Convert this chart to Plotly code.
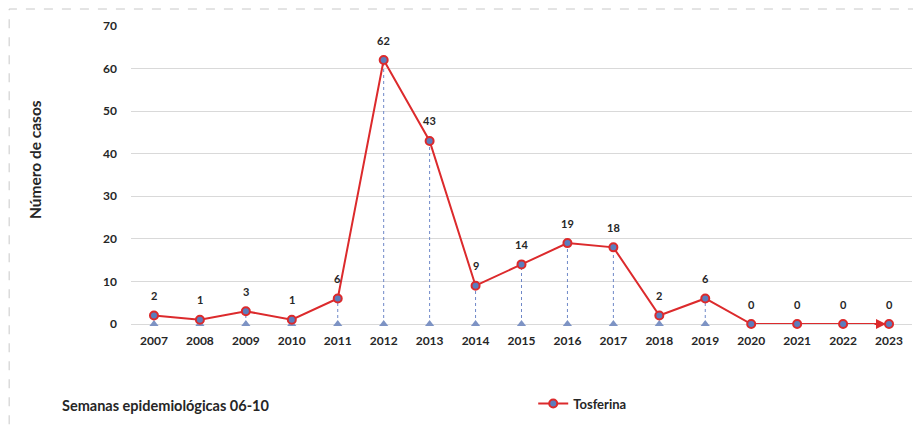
import plotly.graph_objects as go

years = ['2007', '2008', '2009', '2010', '2011', '2012', '2013', '2014', '2015',
         '2016', '2017', '2018', '2019', '2020', '2021', '2022', '2023']
cases = [2, 1, 3, 1, 6, 62, 43, 9, 14, 19, 18, 2, 6, 0, 0, 0, 0]
y_ticks = [0, 10, 20, 30, 40, 50, 60, 70]

RED = '#dc2a2c'
BLUE = '#5b7dbd'
DROP = '#6f88c8'
FONT = 'Lato'

# drop lines from zero up to each point
drop_x, drop_y = [], []
for yr, v in zip(years, cases):
    drop_x += [yr, yr, None]
    drop_y += [0, v, None]

fig = go.Figure()
fig.add_trace(go.Scatter(x=drop_x, y=drop_y, mode='lines', showlegend=False,
                         line=dict(color=DROP, width=1, dash='dot'),
                         hoverinfo='skip', cliponaxis=False))
fig.add_trace(go.Scatter(x=years, y=[0] * len(years), mode='markers', showlegend=False,
                         marker=dict(symbol='triangle-up', size=8, color='#7d93c4'),
                         cliponaxis=False))
fig.add_trace(go.Scatter(x=years, y=cases, mode='lines+markers', name='Tosferina',
                         line=dict(color=RED, width=2),
                         marker=dict(symbol='circle', size=8, color=BLUE,
                                     line=dict(color=RED, width=2)),
                         cliponaxis=False))

# value labels (category axis -> use index positions)
for i, v in enumerate(cases):
    fig.add_annotation(x=i, y=v, text=str(v), showarrow=False, yshift=20,
                       font=dict(family=FONT, size=11, color='#262626', weight='bold'))

# arrow head at the end of the series
fig.add_annotation(x=len(cases) - 1, y=cases[-1], ax=-16, ay=0, text='', showarrow=True,
                   arrowhead=2, arrowsize=1, arrowwidth=2, arrowcolor=RED, standoff=3)

fig.add_annotation(xref='paper', yref='paper', x=-0.137, y=0.55, text='Número de casos',
                   textangle=-90, showarrow=False,
                   font=dict(family=FONT, size=15.5, color='#262626', weight='bold'))
fig.add_annotation(xref='paper', yref='paper', x=-0.0915, y=-0.31, xanchor='left',
                   text='Semanas epidemiológicas 06-10', showarrow=False,
                   font=dict(family=FONT, size=14.5, color='#262626', weight='bold'))

# dashed outer frame
fig.add_shape(type='rect', xref='paper', yref='paper', x0=-0.156, x1=1.05, y0=-0.5, y1=1.057,
              line=dict(color='#c8c8c8', width=1, dash='dash'))

fig.update_layout(
    width=921, height=431,
    margin=dict(l=123, r=17, t=18, b=115, autoexpand=False),
    paper_bgcolor='white', plot_bgcolor='white',
    font=dict(family=FONT, color='#262626'),
    showlegend=True,
    legend=dict(x=0.515, y=-0.267, xanchor='left', yanchor='middle', orientation='h',
                font=dict(family=FONT, size=13, color='#262626', weight='bold'),
                bgcolor='rgba(0,0,0,0)'),
    xaxis=dict(type='category', range=[-0.5, len(years) - 0.5], showgrid=False,
               showline=False, ticks='', ticklabelstandoff=8,
               tickfont=dict(family=FONT, size=12, color='#262626', weight='bold')),
    yaxis=dict(range=[0, 70], tickvals=y_ticks, showgrid=True, gridcolor='#d9d9d9',
               gridwidth=1.3, zeroline=True, zerolinecolor='#d9d9d9', zerolinewidth=1.3,
               showline=False, ticks='', ticklabelstandoff=13,
               tickfont=dict(family=FONT, size=12, color='#262626', weight='bold')),
)

fig.write_html('out.html')
